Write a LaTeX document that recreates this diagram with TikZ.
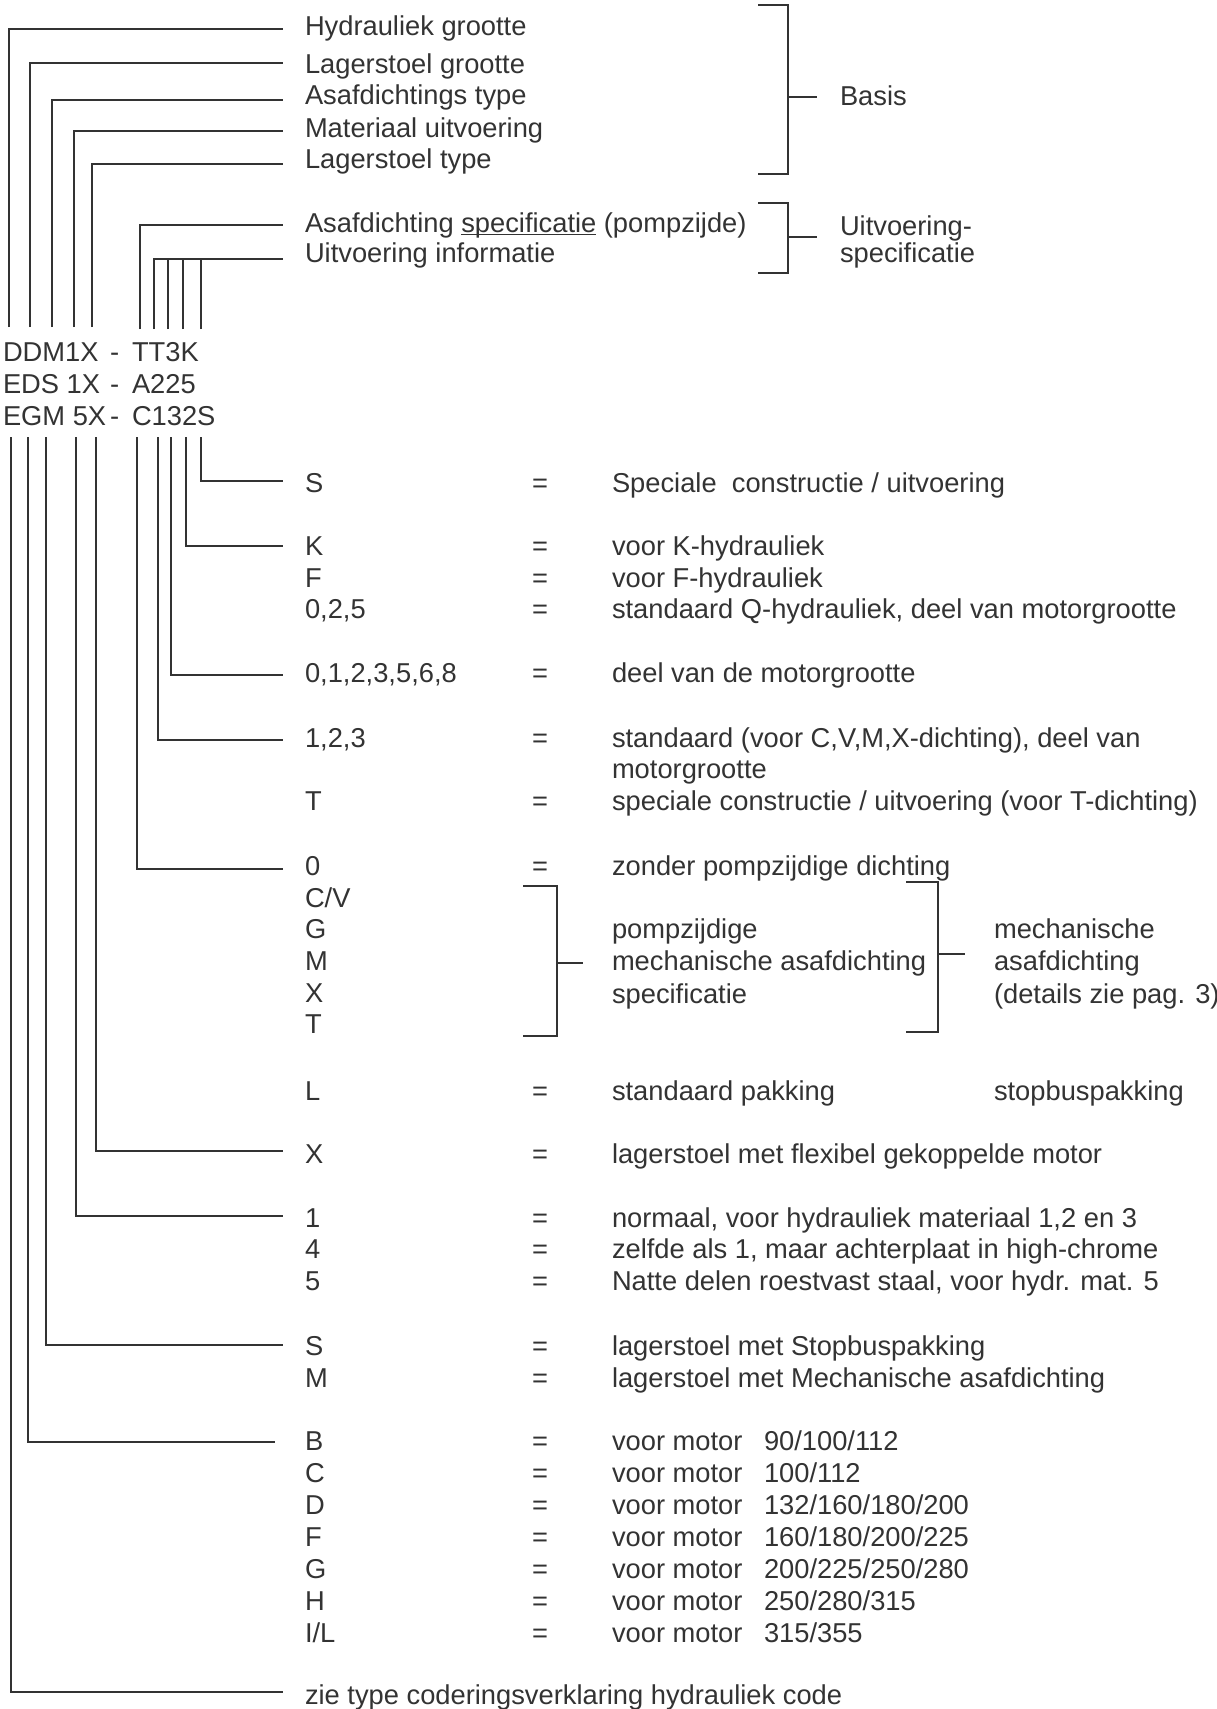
\documentclass[tikz,border=0pt]{standalone}
\usepackage{fontspec}
\setmainfont{Liberation Sans}
\definecolor{ink}{HTML}{333333}
\newcommand\myul[1]{\setbox0\hbox{#1}\rlap{\rule[-3.4pt]{\wd0}{1.6pt}}\box0\relax}
% connector: name, x-start, y-start, x-end, y-end (vertical then horizontal)
\newcommand\myconn[5]{\coordinate (#1s) at (#2,#3); \coordinate (#1e) at (#4,#5); \draw[conn] (#1s) |- (#1e);}
% entry: name, baseline y, code, description
\newcommand\myentry[4]{\node (#1c) at (305,#2) {#3}; \node (#1q) at (532,#2) {=}; \node (#1d) at (612,#2) {#4};}
\begin{document}
\begin{tikzpicture}[x=1pt,y=-1pt,
  every node/.style={inner sep=0pt, outer sep=0pt, anchor=base west, text=ink,
    font=\fontsize{27.3}{31.5}\selectfont},
  conn/.style={draw=ink, line width=2.6pt, line cap=butt, line join=miter},
]
\useasboundingbox[fill=white] (0,0) rectangle (1217,1709);

% ---------- top labels ----------
\node (h1) at (305,35) {Hydrauliek grootte};
\node (h2) at (305,73) {Lagerstoel grootte};
\node (h3) at (305,104) {Asafdichtings type};
\node (h4) at (305,137) {Materiaal uitvoering};
\node (h5) at (305,168) {Lagerstoel type};
\node (h6) at (305,232) {Asafdichting \myul{specificatie} (pompzijde)};
\node (h7) at (305,262) {Uitvoering informatie};
\node (basis) at (840,105) {Basis};
\node (uit1) at (840,235) {Uitvoering-};
\node (uit2) at (840,262) {specificatie};

% brackets top
\coordinate (b1a) at (758,5); \coordinate (b1b) at (788,5); \coordinate (b1c) at (788,174); \coordinate (b1d) at (758,174);
\coordinate (b1m) at (788,97); \coordinate (b1t) at (817,97);
\draw[conn] (b1a) -- (b1b) -- (b1c) -- (b1d);
\draw[conn] (b1m) -- (b1t);
\coordinate (b2a) at (758,203); \coordinate (b2b) at (788,203); \coordinate (b2c) at (788,273); \coordinate (b2d) at (758,273);
\coordinate (b2m) at (788,237); \coordinate (b2t) at (817,237);
\draw[conn] (b2a) -- (b2b) -- (b2c) -- (b2d);
\draw[conn] (b2m) -- (b2t);

% ---------- code ----------
\node (c1a) at (3,361) {DDM1X}; \node (c1b) at (110,361) {-}; \node (c1c) at (132,361) {TT3K};
\node (c2a) at (3,393) {EDS 1X}; \node (c2b) at (110,393) {-}; \node (c2c) at (132,393) {A225};
\node (c3a) at (3,425) {EGM 5X}; \node (c3b) at (110,425) {-}; \node (c3c) at (132,425) {C132S};

% ---------- top connectors ----------
\myconn{t1}{9}{327}{283}{29}
\myconn{t2}{30}{327}{283}{63}
\myconn{t3}{52}{327}{283}{100}
\myconn{t4}{74}{327}{283}{131}
\myconn{t5}{92}{327}{283}{164}
\myconn{t6}{140}{329}{283}{225}
\myconn{t7}{154}{329}{283}{259}
\coordinate (t8s) at (168,329); \coordinate (t8e) at (168,259); \draw[conn] (t8s) -- (t8e);
\coordinate (t9s) at (183,329); \coordinate (t9e) at (183,259); \draw[conn] (t9s) -- (t9e);
\coordinate (t10s) at (201,329); \coordinate (t10e) at (201,259); \draw[conn] (t10s) -- (t10e);

% ---------- bottom connectors ----------
\myconn{u1}{201}{437}{283}{481}
\myconn{u2}{186}{437}{283}{546}
\myconn{u3}{171}{437}{283}{675}
\myconn{u4}{158}{437}{283}{740}
\myconn{u5}{137}{437}{283}{869}
\myconn{u6}{96}{437}{283}{1151}
\myconn{u7}{76}{437}{283}{1216}
\myconn{u8}{46}{437}{283}{1345}
\myconn{u9}{28}{437}{275}{1442}
\myconn{u10}{11}{437}{283}{1692}

% ---------- entries ----------
\myentry{rS}{492}{S}{Speciale\ \ constructie / uitvoering}
\myentry{rK}{555}{K}{voor K-hydrauliek}
\myentry{rF}{587}{F}{voor F-hydrauliek}
\myentry{rQ}{618}{0,2,5}{standaard Q-hydrauliek, deel van motorgrootte}
\myentry{rN}{682}{0,1,2,3,5,6,8}{deel van de motorgrootte}
\myentry{rA}{747}{1,2,3}{standaard (voor C,V,M,X-dichting), deel van}
\node (rAd2) at (612,778) {motorgrootte};
\myentry{rT}{810}{T}{speciale constructie / uitvoering (voor T-dichting)}
\myentry{rZ}{875}{0}{zonder pompzijdige dichting}
\node (mCV) at (305,907) {C/V};
\node (mG) at (305,938) {G};
\node (mM) at (305,970) {M};
\node (mX) at (305,1002) {X};
\node (mT) at (305,1033) {T};
\node (p1) at (612,938) {pompzijdige};
\node (p2) at (612,970) {mechanische asafdichting};
\node (p3) at (612,1003) {specificatie};
\node (q1) at (994,938) {mechanische};
\node (q2) at (994,970) {asafdichting};
\node (q3) at (994,1003) {(details zie pag. 3)};
% mech brackets
\coordinate (m1a) at (523,886); \coordinate (m1b) at (557,886); \coordinate (m1c) at (557,1036); \coordinate (m1d) at (523,1036);
\coordinate (m1m) at (557,963); \coordinate (m1t) at (583,963);
\draw[conn] (m1a) -- (m1b) -- (m1c) -- (m1d);
\draw[conn] (m1m) -- (m1t);
\coordinate (m2a) at (906,882); \coordinate (m2b) at (938,882); \coordinate (m2c) at (938,1032); \coordinate (m2d) at (906,1032);
\coordinate (m2m) at (938,954); \coordinate (m2t) at (965,954);
\draw[conn] (m2a) -- (m2b) -- (m2c) -- (m2d);
\draw[conn] (m2m) -- (m2t);

\myentry{rL}{1100}{L}{standaard pakking}
\node (rLx) at (994,1100) {stopbuspakking};
\myentry{rX}{1163}{X}{lagerstoel met flexibel gekoppelde motor}
\myentry{r1}{1227}{1}{normaal, voor hydrauliek materiaal 1,2 en 3}
\myentry{r4}{1258}{4}{zelfde als 1, maar achterplaat in high-chrome}
\myentry{r5}{1290}{5}{Natte delen roestvast staal, voor hydr. mat. 5}
\myentry{rSS}{1355}{S}{lagerstoel met Stopbuspakking}
\myentry{rMM}{1387}{M}{lagerstoel met Mechanische asafdichting}

\myentry{mB}{1450}{B}{voor motor}\node (mBn) at (764,1450) {90/100/112};
\myentry{mC}{1482}{C}{voor motor}\node (mCn) at (764,1482) {100/112};
\myentry{mD}{1514}{D}{voor motor}\node (mDn) at (764,1514) {132/160/180/200};
\myentry{mF}{1546}{F}{voor motor}\node (mFn) at (764,1546) {160/180/200/225};
\myentry{mGG}{1578}{G}{voor motor}\node (mGn) at (764,1578) {200/225/250/280};
\myentry{mH}{1610}{H}{voor motor}\node (mHn) at (764,1610) {250/280/315};
\myentry{mIL}{1642}{I/L}{voor motor}\node (mIn) at (764,1642) {315/355};

\node (zie) at (305,1704) {zie type coderingsverklaring hydrauliek code};
\end{tikzpicture}
\end{document}
